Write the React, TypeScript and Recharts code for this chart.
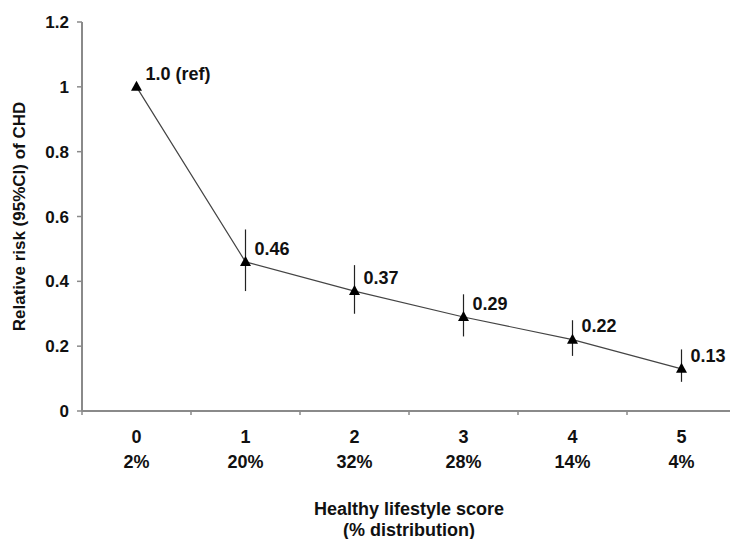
import React from 'react';
import { LineChart, Line, XAxis, YAxis, ErrorBar, LabelList, Label } from 'recharts';

const scores = ['0', '1', '2', '3', '4', '5'];
const distribution = ['2%', '20%', '32%', '28%', '14%', '4%'];
const relativeRisk = [1.0, 0.46, 0.37, 0.29, 0.22, 0.13];
const ciLow = [1.0, 0.37, 0.3, 0.23, 0.17, 0.09];
const ciHigh = [1.0, 0.56, 0.45, 0.36, 0.28, 0.19];
const pointLabels = ['1.0 (ref)', '0.46', '0.37', '0.29', '0.22', '0.13'];
const yTicks = [0, 0.2, 0.4, 0.6, 0.8, 1, 1.2];
const xTicks = [-0.5, 0, 0.5, 1, 1.5, 2, 2.5, 3, 3.5, 4, 4.5, 5, 5.5];

const data = scores.map((s, i) => ({
  x: i,
  rr: relativeRisk[i],
  err: [relativeRisk[i] - ciLow[i], ciHigh[i] - relativeRisk[i]],
  label: pointLabels[i],
}));

const FONT = '"Liberation Sans", Arial, Helvetica, sans-serif';
const AXIS = '#8a8a8a';

const XTick = (props: any) => {
  const { x, y, payload } = props;
  const v = payload.value;
  if (!Number.isInteger(v)) {
    return <line x1={x} x2={x} y1={y} y2={y + 4} stroke={AXIS} strokeWidth={1.5} />;
  }
  return (
    <g>
      <text x={x} y={y + 27} textAnchor="middle" dominantBaseline="middle" fontFamily={FONT} fontWeight="bold" fontSize={18} fill="#111">
        {scores[v]}
      </text>
      <text x={x} y={y + 52} textAnchor="middle" dominantBaseline="middle" fontFamily={FONT} fontWeight="bold" fontSize={18} fill="#111">
        {distribution[v]}
      </text>
    </g>
  );
};

const TriangleDot = (props: any) => {
  const { cx, cy, index } = props;
  if (cx == null || cy == null) return null;
  return <polygon key={`t${index}`} points={`${cx},${cy - 6} ${cx - 5.5},${cy + 4} ${cx + 5.5},${cy + 4}`} fill="#000" />;
};

const PointLabel = (props: any) => {
  const { x, y, value } = props;
  return (
    <text x={x + 9} y={y - 12} dominantBaseline="middle" fontFamily={FONT} fontWeight="bold" fontSize={18} fill="#111">
      {value}
    </text>
  );
};

export default function App() {
  return (
    <div style={{ position: 'absolute', left: 0, top: 0, background: '#fff' }}>
      <LineChart width={730} height={539} data={data} margin={{ top: 22, right: -6, bottom: 0, left: 0 }}>
        <XAxis
          dataKey="x"
          type="number"
          domain={[-0.5, 5.5]}
          ticks={xTicks}
          interval={0}
          tickLine={false}
          tickSize={0}
          tickMargin={0}
          tick={<XTick />}
          axisLine={{ stroke: AXIS, strokeWidth: 2 }}
          height={128}
        >
          <Label
            content={(p: any) => {
              const vb = p.viewBox;
              const cx = vb.x + vb.width / 2;
              return (
                <g>
                  <text x={cx} y={vb.y + 99} textAnchor="middle" dominantBaseline="middle" fontFamily={FONT} fontWeight="bold" fontSize={18} fill="#111">
                    Healthy lifestyle score
                  </text>
                  <text x={cx} y={vb.y + 120} textAnchor="middle" dominantBaseline="middle" fontFamily={FONT} fontWeight="bold" fontSize={18} fill="#111">
                    (% distribution)
                  </text>
                </g>
              );
            }}
          />
        </XAxis>
        <YAxis
          type="number"
          domain={[0, 1.2]}
          ticks={yTicks}
          interval={0}
          width={82}
          tickSize={5}
          tickMargin={8}
          tickLine={{ stroke: AXIS, strokeWidth: 1.5 }}
          axisLine={{ stroke: AXIS, strokeWidth: 2 }}
          tick={{ fontFamily: FONT, fontWeight: 'bold', fontSize: 17, fill: '#111' }}
        >
          <Label
            content={(p: any) => {
              const vb = p.viewBox;
              const cx = vb.x + 21;
              const cy = vb.y + vb.height / 2;
              return (
                <text x={cx} y={cy} transform={`rotate(-90 ${cx} ${cy})`} textAnchor="middle" dominantBaseline="middle" fontFamily={FONT} fontWeight="bold" fontSize={17} fill="#111">
                  Relative risk (95%CI) of CHD
                </text>
              );
            }}
          />
        </YAxis>
        <Line
          dataKey="rr"
          stroke="#444"
          strokeWidth={1.2}
          dot={<TriangleDot />}
          activeDot={false}
          isAnimationActive={false}
        >
          <ErrorBar dataKey="err" direction="y" width={0} stroke="#222" strokeWidth={1.2} />
          <LabelList dataKey="label" content={<PointLabel />} />
        </Line>
      </LineChart>
    </div>
  );
}
